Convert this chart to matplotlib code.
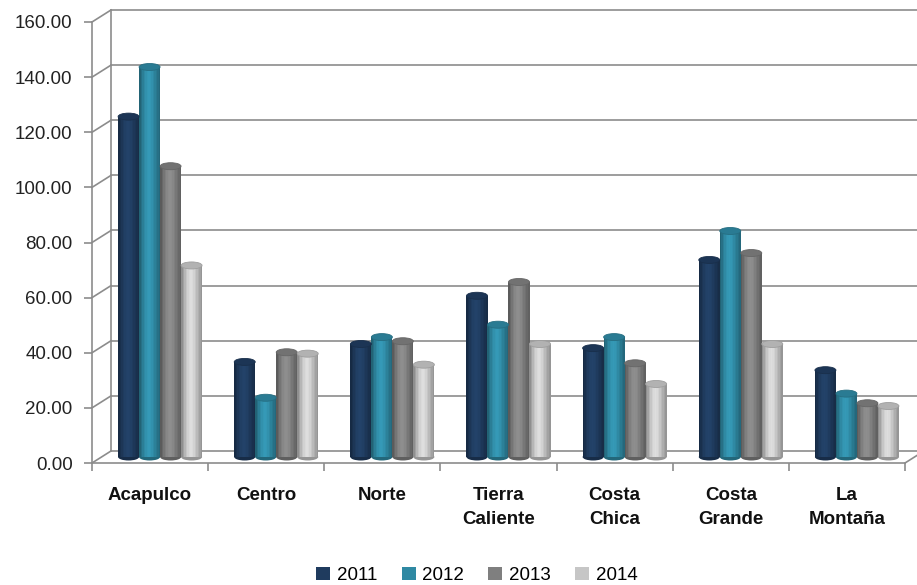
import numpy as np
import matplotlib
matplotlib.use("Agg")
import matplotlib.pyplot as plt
from matplotlib.patches import Ellipse, Patch
from matplotlib.colors import to_rgb

plt.rcParams["font.family"] = ["Liberation Sans", "DejaVu Sans"]

categories = ["Acapulco", "Centro", "Norte", "Tierra\nCaliente", "Costa\nChica", "Costa\nGrande", "La\nMontaña"]
years = ["2011", "2012", "2013", "2014"]
v2011 = [123.5, 34.5, 41.0, 58.5, 39.5, 71.5, 31.5]
v2012 = [141.5, 21.5, 43.5, 48.0, 43.5, 82.0, 23.0]
v2013 = [105.5, 38.0, 42.0, 63.5, 34.0, 74.0, 19.5]
v2014 = [69.5, 37.5, 33.5, 41.0, 26.5, 41.0, 18.5]
series = [v2011, v2012, v2013, v2014]
colors = ["#1f3b5e", "#2f89a3", "#7f7f7f", "#c6c6c6"]
yticks = np.arange(0, 161, 20)

W, H = 917, 585
fig = plt.figure(figsize=(W / 100, H / 100), dpi=100)
ax_l, ax_r, ax_b, ax_t = 92, 905, 463, 22
ax = fig.add_axes([ax_l / W, 1 - ax_b / H, (ax_r - ax_l) / W, (ax_b - ax_t) / H])
ax.set_xlim(-0.5, 6.5)
ax.set_ylim(0, 160)

px_x = (ax_r - ax_l) / 7.0      # pixels per category
px_y = (ax_b - ax_t) / 160.0    # pixels per unit

# 3D look: back wall offset
dx, dy = 19 / px_x, 12 / px_y
grid_c = "#8c8c8c"
for v in yticks:
    ax.plot([-0.5, -0.5 + dx], [v, v + dy], color=grid_c, lw=1.2, clip_on=False, zorder=1)
    ax.plot([-0.5 + dx, 6.5 + dx], [v + dy, v + dy], color=grid_c, lw=1.2, clip_on=False, zorder=1)
ax.plot([-0.5 + dx, -0.5 + dx], [dy, 160 + dy], color=grid_c, lw=1.2, clip_on=False, zorder=1)
ax.plot([6.5, 6.5 + dx], [0, dy], color=grid_c, lw=1.2, clip_on=False, zorder=1)

# cylinders
bw = 21 / px_x
bx, by = 10 / px_x, 6 / px_y
cap_h = 7 / px_y
x = np.arange(len(categories))
shade = np.array([0.72, 0.82, 0.92, 1.0, 1.06, 1.1, 1.12, 1.1, 1.06, 1.0, 0.94, 0.88, 0.82, 0.76])
nstrip = len(shade)
for i, (vals, c) in enumerate(zip(series, colors)):
    base = np.array(to_rgb(c))
    xc = x + bx + (i - 1.5) * bw
    for j in range(nstrip):
        col = np.clip(base * shade[j], 0, 1)
        ax.bar(xc - bw / 2 + (j + 0.5) * bw / nstrip, vals, width=bw / nstrip * 1.05,
               bottom=by, color=col, linewidth=0, zorder=3)
    for xi, v in zip(xc, vals):
        ax.add_patch(Ellipse((xi, by), bw, cap_h, color=base * 0.75, zorder=2.9, lw=0))
        ax.add_patch(Ellipse((xi, v + by), bw, cap_h, facecolor=np.clip(base * 0.9, 0, 1),
                             edgecolor=np.clip(base * 0.8, 0, 1), lw=0.6, zorder=4))

for s in ["top", "right"]:
    ax.spines[s].set_visible(False)
for s in ["left", "bottom"]:
    ax.spines[s].set_color(grid_c)
    ax.spines[s].set_linewidth(1.2)

ax.set_yticks(yticks)
ax.set_yticklabels([f"{v:.2f}" for v in yticks], fontsize=13.5, color="#222222")
ax.tick_params(axis="y", length=6, width=1.2, color=grid_c, pad=8)
ax.set_xticks(np.arange(-0.5, 7, 1))
ax.set_xticklabels([])
ax.tick_params(axis="x", which="major", length=6, width=1.2, color=grid_c)
ax.set_xticks(x, minor=True)
ax.set_xticklabels(categories, minor=True, fontsize=13.5, fontweight="bold", color="#111111",
                   va="top", linespacing=1.6)
ax.tick_params(axis="x", which="minor", length=0, pad=17)
ax.patch.set_alpha(0)

handles = [Patch(facecolor=c, label=y) for c, y in zip(colors, years)]
fig.legend(handles=handles, loc="lower center", bbox_to_anchor=(0.52, -0.027), ncol=4,
           frameon=False, fontsize=13.5, handlelength=0.75, handleheight=0.75,
           handletextpad=0.35, columnspacing=1.3)

fig.savefig("out.png", dpi=100)
